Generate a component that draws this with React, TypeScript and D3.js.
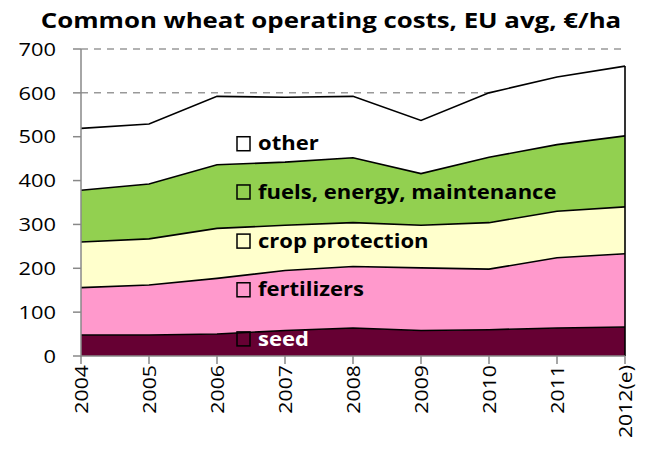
import React from "react";
import * as d3 from "d3";

const years = ["2004", "2005", "2006", "2007", "2008", "2009", "2010", "2011", "2012(e)"];
const seed = [48, 48, 50, 58, 64, 58, 60, 64, 66];
const fertilizers = [108, 114, 127, 137, 140, 143, 138, 160, 167];
const cropProtection = [104, 105, 114, 103, 100, 97, 106, 106, 107];
const fuels = [118, 125, 145, 144, 148, 118, 149, 152, 162];
const other = [141, 137, 156, 148, 140, 121, 147, 154, 159];
const yTicks = [0, 100, 200, 300, 400, 500, 600, 700];
const seriesNames = ["seed", "fertilizers", "crop protection", "fuels, energy, maintenance", "other"];
const seriesColors = ["#660033", "#FF99CC", "#FFFFCC", "#92D050", "#FFFFFF"];
const labelValues = [39, 151, 262, 374, 484];
const labelColors = ["#FFFFFF", "#000000", "#000000", "#000000", "#000000"];
const title = "Common wheat operating costs, EU avg, €/ha";

const W = 646;
const H = 455;
const font = "'Open Sans', sans-serif";

export default function App() {
  const rows = years.map((y, i) => ({
    year: y,
    s0: seed[i],
    s1: fertilizers[i],
    s2: cropProtection[i],
    s3: fuels[i],
    s4: other[i],
  }));
  const keys = ["s0", "s1", "s2", "s3", "s4"];
  const stacked = d3.stack<any>().keys(keys)(rows);

  const x = d3.scalePoint<string>().domain(years).range([81, 625]);
  const y = d3.scaleLinear().domain([0, 700]).range([356, 49]);

  const area = d3
    .area<any>()
    .x((d: any) => x(d.data.year) as number)
    .y0((d: any) => y(d[0]))
    .y1((d: any) => y(d[1]));
  const topLine = d3
    .line<any>()
    .x((d: any) => x(d.data.year) as number)
    .y((d: any) => y(d[1]));

  const lastX = x(years[years.length - 1]) as number;
  const topTotal = stacked[stacked.length - 1][years.length - 1][1];
  const labelX = (x("2006") as number) + 20;

  return (
    <svg width={W} height={H} style={{ position: "absolute", left: 0, top: 0 }}>
      <rect x={0} y={0} width={W} height={H} fill="#fff" />
      <text
        transform="translate(331,28) scale(1.23,1)"
        textAnchor="middle"
        fontFamily={font}
        fontWeight="bold"
        fontSize={21}
        fill="#000"
      >
        {title}
      </text>
      {yTicks
        .filter((t) => t > 0)
        .map((t) => (
          <line key={"g" + t} x1={81} x2={625} y1={y(t)} y2={y(t)} stroke="#999" strokeWidth={1.5} strokeDasharray="7,6" />
        ))}
      {stacked.map((s, i) => (
        <path key={"a" + i} d={area(s) as string} fill={seriesColors[i]} stroke="none" />
      ))}
      {stacked.map((s, i) => (
        <path key={"l" + i} d={topLine(s) as string} fill="none" stroke="#000" strokeWidth={1.6} />
      ))}
      <line x1={lastX} x2={lastX} y1={y(topTotal)} y2={y(0)} stroke="#000" strokeWidth={1.6} />
      {/* axes */}
      <line x1={81} x2={81} y1={y(700)} y2={y(0) + 1} stroke="#888" strokeWidth={1.5} />
      <line x1={81} x2={625} y1={y(0)} y2={y(0)} stroke="#888" strokeWidth={1.5} />
      {yTicks.map((t) => (
        <g key={"yt" + t}>
          <line x1={73} x2={81} y1={y(t)} y2={y(t)} stroke="#888" strokeWidth={1.5} />
          <text
            transform={`translate(56,${y(t)}) scale(1.15,1)`}
            dy="0.35em"
            textAnchor="end"
            fontFamily={font}
            fontSize={19}
            fill="#000"
          >
            {t}
          </text>
        </g>
      ))}
      {years.map((yr) => (
        <g key={"xt" + yr}>
          <line x1={x(yr) as number} x2={x(yr) as number} y1={y(0)} y2={y(0) + 8} stroke="#888" strokeWidth={1.5} />
          <text
            transform={`translate(${x(yr)},365) rotate(-90) scale(1.12,1)`}
            dy="0.35em"
            textAnchor="end"
            fontFamily={font}
            fontSize={19}
            fill="#000"
          >
            {yr}
          </text>
        </g>
      ))}
      {seriesNames.map((n, i) => (
        <g key={"lab" + i}>
          <rect x={labelX} y={y(labelValues[i]) - 7} width={13} height={14} fill="none" stroke="#000" strokeWidth={1.5} />
          <text
            transform={`translate(${labelX + 21},${y(labelValues[i])}) scale(1.16,1)`}
            dy="0.35em"
            fontFamily={font}
            fontWeight="bold"
            fontSize={19}
            fill={labelColors[i]}
          >
            {n}
          </text>
        </g>
      ))}
    </svg>
  );
}
